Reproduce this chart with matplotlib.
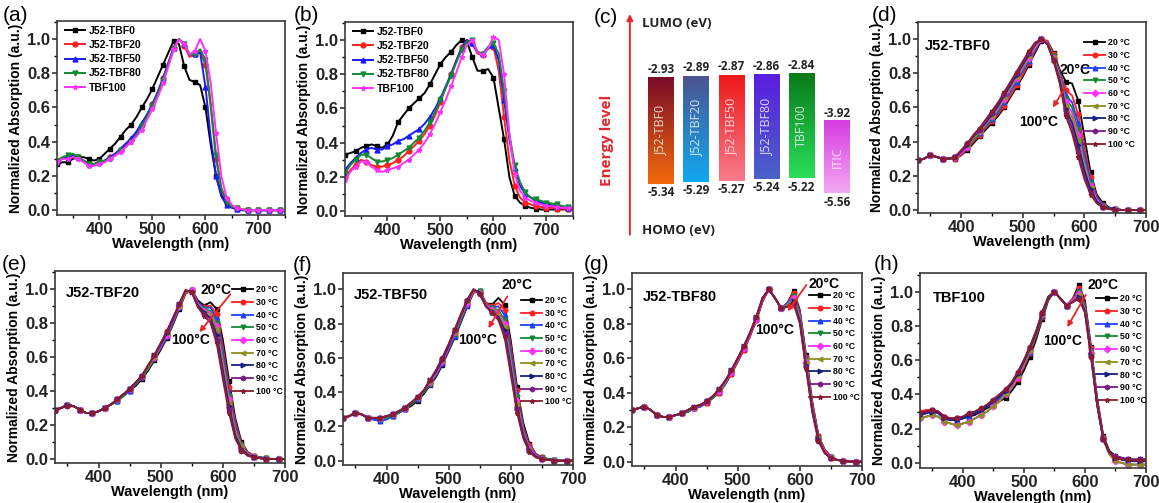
import numpy as np
import matplotlib
matplotlib.use('Agg')
import matplotlib.pyplot as plt
from matplotlib.ticker import MultipleLocator, FormatStrFormatter

plt.rcParams['font.family'] = ['Liberation Sans', 'DejaVu Sans']
plt.rcParams['font.weight'] = 'bold'
plt.rcParams['axes.labelweight'] = 'bold'
plt.rcParams['axes.linewidth'] = 1.2

FW, FH = 1159, 503

# ---------------- data ----------------
wl_ab = np.arange(320, 751, 10)      # panels a, b
wl_heat = np.arange(330, 701, 10)    # panels d-h

blend_names = ['J52-TBF0', 'J52-TBF20', 'J52-TBF50', 'J52-TBF80', 'TBF100']

# (a) solution
sol_tbf0 = [0.27, 0.28, 0.28, 0.30, 0.31, 0.31, 0.30, 0.29, 0.30, 0.33, 0.36, 0.39, 0.43, 0.47, 0.50, 0.545,
            0.60, 0.65, 0.71, 0.78, 0.85, 0.92, 0.99, 0.97, 0.84, 0.76, 0.75, 0.73, 0.60, 0.38, 0.20, 0.09,
            0.04, 0.015, 0.005, 0, 0, 0, 0, 0, 0, 0, 0, 0]
sol_tbf20 = [0.29, 0.30, 0.31, 0.32, 0.31, 0.29, 0.27, 0.27, 0.28, 0.29, 0.31, 0.33, 0.35, 0.38, 0.41, 0.45,
             0.50, 0.56, 0.62, 0.69, 0.77, 0.86, 0.95, 1.00, 0.96, 0.895, 0.91, 0.93, 0.85, 0.60, 0.30, 0.12,
             0.05, 0.02, 0.01, 0.005, 0, 0, 0, 0, 0, 0, 0, 0]
sol_tbf50 = [0.28, 0.30, 0.31, 0.32, 0.31, 0.29, 0.27, 0.27, 0.28, 0.29, 0.31, 0.33, 0.36, 0.39, 0.42, 0.46,
             0.51, 0.56, 0.62, 0.69, 0.77, 0.86, 0.95, 1.00, 0.97, 0.91, 0.91, 0.92, 0.72, 0.42, 0.20, 0.08,
             0.03, 0.015, 0.005, 0, 0, 0, 0, 0, 0, 0, 0, 0]
sol_tbf80 = [0.29, 0.31, 0.32, 0.33, 0.31, 0.29, 0.27, 0.27, 0.28, 0.29, 0.30, 0.32, 0.35, 0.37, 0.40, 0.44,
             0.49, 0.55, 0.61, 0.68, 0.76, 0.85, 0.94, 1.00, 0.97, 0.91, 0.91, 0.94, 0.88, 0.62, 0.32, 0.13,
             0.05, 0.02, 0.01, 0.005, 0, 0, 0, 0, 0, 0, 0, 0]
sol_tbf100 = [0.28, 0.30, 0.30, 0.31, 0.30, 0.28, 0.26, 0.26, 0.27, 0.28, 0.30, 0.32, 0.34, 0.37, 0.40, 0.43,
              0.47, 0.53, 0.59, 0.66, 0.74, 0.84, 0.94, 1.00, 0.97, 0.91, 0.93, 1.00, 0.93, 0.74, 0.45, 0.20,
              0.07, 0.03, 0.01, 0.005, 0, 0, 0, 0, 0, 0, 0, 0]

# (b) film
film_tbf0 = [0.33, 0.34, 0.35, 0.37, 0.38, 0.39, 0.38, 0.37, 0.39, 0.44, 0.52, 0.56, 0.60, 0.63, 0.66, 0.69,
             0.74, 0.80, 0.86, 0.90, 0.93, 0.97, 1.00, 0.99, 0.90, 0.82, 0.82, 0.83, 0.78, 0.60, 0.42, 0.20,
             0.09, 0.05, 0.03, 0.02, 0.015, 0.01, 0.01, 0.01, 0.01, 0.01, 0.01, 0.01]
film_tbf20 = [0.20, 0.24, 0.27, 0.30, 0.29, 0.27, 0.26, 0.26, 0.27, 0.28, 0.30, 0.32, 0.35, 0.38, 0.41, 0.45,
              0.50, 0.56, 0.64, 0.72, 0.80, 0.88, 0.96, 1.00, 0.98, 0.92, 0.91, 0.95, 0.96, 0.82, 0.55, 0.30,
              0.15, 0.08, 0.05, 0.04, 0.03, 0.025, 0.02, 0.02, 0.015, 0.015, 0.01, 0.01]
film_tbf50 = [0.24, 0.28, 0.31, 0.34, 0.36, 0.37, 0.36, 0.36, 0.38, 0.39, 0.41, 0.42, 0.44, 0.46, 0.48, 0.51,
              0.55, 0.60, 0.66, 0.73, 0.80, 0.88, 0.95, 1.00, 0.98, 0.93, 0.92, 0.95, 0.97, 0.88, 0.65, 0.42,
              0.25, 0.15, 0.10, 0.08, 0.06, 0.05, 0.04, 0.035, 0.03, 0.025, 0.02, 0.02]
film_tbf80 = [0.22, 0.27, 0.30, 0.33, 0.33, 0.31, 0.29, 0.29, 0.30, 0.31, 0.33, 0.35, 0.37, 0.40, 0.43, 0.47,
              0.52, 0.58, 0.65, 0.72, 0.79, 0.87, 0.94, 0.99, 1.00, 0.93, 0.92, 0.96, 0.98, 0.92, 0.70, 0.45,
              0.27, 0.17, 0.11, 0.08, 0.07, 0.06, 0.05, 0.045, 0.04, 0.03, 0.025, 0.02]
film_tbf100 = [0.18, 0.23, 0.26, 0.29, 0.29, 0.26, 0.24, 0.23, 0.24, 0.25, 0.26, 0.28, 0.30, 0.33, 0.36, 0.40,
               0.45, 0.51, 0.58, 0.65, 0.73, 0.81, 0.90, 0.97, 1.00, 0.93, 0.91, 0.95, 1.02, 1.00, 0.80, 0.45,
               0.22, 0.12, 0.08, 0.06, 0.05, 0.04, 0.03, 0.03, 0.025, 0.02, 0.02, 0.02]

# (c) energy levels
level_names = ['J52-TBF0', 'J52-TBF20', 'J52-TBF50', 'J52-TBF80', 'TBF100', 'ITIC']
lumo = [-2.93, -2.89, -2.87, -2.86, -2.84, -3.92]
homo = [-5.34, -5.29, -5.27, -5.24, -5.22, -5.56]

# (d)-(h) temperature dependent spectra, rows: 20..100 C
temps = ['20 °C', '30 °C', '40 °C', '50 °C', '60 °C', '70 °C', '80 °C', '90 °C', '100 °C']

tbf0_heat = [
    [0.29, 0.30, 0.32, 0.31, 0.30, 0.30, 0.30, 0.32, 0.35, 0.39, 0.43, 0.47, 0.51, 0.55, 0.60, 0.66, 0.72, 0.78, 0.85, 0.92, 0.99, 0.99, 0.92, 0.82, 0.75, 0.74, 0.64, 0.43, 0.22, 0.09, 0.04, 0.015, 0.005, 0, 0, 0, 0, 0],
    [0.29, 0.30, 0.32, 0.31, 0.30, 0.30, 0.30, 0.32, 0.36, 0.40, 0.44, 0.48, 0.52, 0.56, 0.61, 0.67, 0.73, 0.79, 0.86, 0.93, 1.00, 0.99, 0.91, 0.81, 0.70, 0.67, 0.56, 0.37, 0.19, 0.08, 0.03, 0.01, 0.005, 0, 0, 0, 0, 0],
    [0.29, 0.30, 0.32, 0.31, 0.30, 0.30, 0.31, 0.33, 0.37, 0.41, 0.45, 0.49, 0.53, 0.57, 0.63, 0.69, 0.75, 0.81, 0.87, 0.94, 1.00, 0.98, 0.90, 0.80, 0.67, 0.63, 0.51, 0.33, 0.17, 0.07, 0.03, 0.01, 0.005, 0, 0, 0, 0, 0],
    [0.29, 0.30, 0.32, 0.31, 0.30, 0.30, 0.31, 0.33, 0.37, 0.41, 0.45, 0.49, 0.54, 0.58, 0.64, 0.70, 0.76, 0.82, 0.88, 0.95, 1.00, 0.98, 0.90, 0.79, 0.65, 0.60, 0.47, 0.30, 0.15, 0.06, 0.025, 0.01, 0.005, 0, 0, 0, 0, 0],
    [0.29, 0.30, 0.32, 0.31, 0.30, 0.30, 0.31, 0.33, 0.37, 0.42, 0.46, 0.50, 0.55, 0.59, 0.65, 0.71, 0.77, 0.83, 0.89, 0.95, 1.00, 0.98, 0.89, 0.78, 0.63, 0.57, 0.44, 0.27, 0.14, 0.06, 0.02, 0.01, 0.005, 0, 0, 0, 0, 0],
    [0.29, 0.30, 0.32, 0.31, 0.30, 0.30, 0.31, 0.34, 0.38, 0.42, 0.46, 0.51, 0.55, 0.60, 0.66, 0.72, 0.78, 0.84, 0.90, 0.96, 1.00, 0.97, 0.89, 0.77, 0.61, 0.54, 0.41, 0.25, 0.13, 0.05, 0.02, 0.01, 0.005, 0, 0, 0, 0, 0],
    [0.29, 0.30, 0.32, 0.31, 0.30, 0.30, 0.31, 0.34, 0.38, 0.43, 0.47, 0.51, 0.56, 0.61, 0.67, 0.73, 0.79, 0.85, 0.91, 0.97, 1.00, 0.97, 0.88, 0.76, 0.59, 0.51, 0.38, 0.23, 0.12, 0.05, 0.02, 0.01, 0.005, 0, 0, 0, 0, 0],
    [0.29, 0.30, 0.32, 0.31, 0.30, 0.30, 0.31, 0.34, 0.39, 0.43, 0.47, 0.52, 0.57, 0.62, 0.68, 0.74, 0.80, 0.86, 0.92, 0.97, 1.00, 0.97, 0.88, 0.75, 0.57, 0.48, 0.34, 0.20, 0.10, 0.04, 0.015, 0.005, 0, 0, 0, 0, 0, 0],
    [0.29, 0.30, 0.32, 0.31, 0.30, 0.30, 0.31, 0.35, 0.39, 0.44, 0.48, 0.53, 0.58, 0.63, 0.69, 0.75, 0.81, 0.87, 0.93, 0.98, 1.00, 0.97, 0.87, 0.74, 0.55, 0.45, 0.31, 0.18, 0.09, 0.04, 0.015, 0.005, 0, 0, 0, 0, 0, 0],
]

tbf20_heat = [
    [0.29, 0.30, 0.32, 0.31, 0.29, 0.27, 0.27, 0.28, 0.30, 0.32, 0.34, 0.37, 0.40, 0.43, 0.47, 0.52, 0.58, 0.64, 0.71, 0.79, 0.88, 0.97, 0.99, 0.93, 0.90, 0.92, 0.88, 0.70, 0.46, 0.24, 0.10, 0.04, 0.02, 0.01, 0.005, 0, 0, 0],
    [0.29, 0.30, 0.32, 0.31, 0.29, 0.27, 0.27, 0.28, 0.30, 0.32, 0.34, 0.37, 0.40, 0.44, 0.48, 0.53, 0.59, 0.65, 0.72, 0.80, 0.89, 0.97, 0.99, 0.92, 0.89, 0.90, 0.85, 0.66, 0.42, 0.22, 0.09, 0.04, 0.02, 0.01, 0.005, 0, 0, 0],
    [0.29, 0.30, 0.32, 0.31, 0.29, 0.27, 0.27, 0.28, 0.30, 0.32, 0.34, 0.37, 0.40, 0.44, 0.48, 0.53, 0.59, 0.65, 0.72, 0.80, 0.89, 0.98, 0.99, 0.92, 0.885, 0.89, 0.82, 0.63, 0.39, 0.20, 0.08, 0.035, 0.015, 0.01, 0.005, 0, 0, 0],
    [0.29, 0.30, 0.32, 0.31, 0.29, 0.27, 0.27, 0.28, 0.30, 0.32, 0.34, 0.37, 0.41, 0.44, 0.48, 0.53, 0.59, 0.66, 0.73, 0.81, 0.90, 0.98, 0.99, 0.91, 0.88, 0.87, 0.80, 0.60, 0.37, 0.18, 0.08, 0.03, 0.015, 0.01, 0.005, 0, 0, 0],
    [0.29, 0.30, 0.32, 0.31, 0.29, 0.27, 0.27, 0.28, 0.30, 0.32, 0.35, 0.38, 0.41, 0.45, 0.49, 0.54, 0.60, 0.66, 0.73, 0.81, 0.90, 0.98, 0.99, 0.91, 0.87, 0.86, 0.78, 0.57, 0.35, 0.17, 0.07, 0.03, 0.015, 0.005, 0, 0, 0, 0],
    [0.29, 0.30, 0.32, 0.31, 0.29, 0.27, 0.27, 0.28, 0.30, 0.32, 0.35, 0.38, 0.41, 0.45, 0.49, 0.54, 0.60, 0.67, 0.74, 0.82, 0.90, 0.98, 0.98, 0.90, 0.865, 0.85, 0.76, 0.55, 0.33, 0.16, 0.07, 0.03, 0.01, 0.005, 0, 0, 0, 0],
    [0.29, 0.30, 0.32, 0.31, 0.29, 0.27, 0.27, 0.28, 0.30, 0.32, 0.35, 0.38, 0.41, 0.45, 0.49, 0.55, 0.61, 0.67, 0.74, 0.82, 0.91, 0.99, 0.98, 0.90, 0.86, 0.83, 0.73, 0.52, 0.31, 0.14, 0.06, 0.025, 0.01, 0.005, 0, 0, 0, 0],
    [0.28, 0.30, 0.31, 0.31, 0.29, 0.27, 0.27, 0.28, 0.30, 0.32, 0.35, 0.38, 0.41, 0.45, 0.49, 0.55, 0.61, 0.68, 0.75, 0.83, 0.91, 0.99, 0.98, 0.89, 0.85, 0.82, 0.70, 0.50, 0.29, 0.13, 0.05, 0.02, 0.01, 0.005, 0, 0, 0, 0],
    [0.28, 0.30, 0.31, 0.31, 0.29, 0.27, 0.27, 0.28, 0.30, 0.32, 0.35, 0.38, 0.41, 0.45, 0.49, 0.55, 0.61, 0.68, 0.75, 0.83, 0.91, 0.99, 0.98, 0.89, 0.84, 0.80, 0.68, 0.47, 0.27, 0.12, 0.05, 0.02, 0.01, 0.005, 0, 0, 0, 0],
]

tbf50_heat = [
    [0.25, 0.26, 0.28, 0.27, 0.25, 0.24, 0.24, 0.25, 0.26, 0.28, 0.30, 0.32, 0.35, 0.39, 0.44, 0.49, 0.56, 0.64, 0.72, 0.81, 0.90, 0.98, 0.99, 0.92, 0.91, 0.95, 0.91, 0.70, 0.43, 0.22, 0.10, 0.04, 0.02, 0.01, 0.005, 0, 0, 0],
    [0.25, 0.26, 0.28, 0.27, 0.25, 0.24, 0.24, 0.25, 0.26, 0.28, 0.30, 0.33, 0.36, 0.40, 0.45, 0.50, 0.57, 0.65, 0.73, 0.82, 0.91, 0.98, 0.99, 0.92, 0.90, 0.92, 0.88, 0.67, 0.41, 0.20, 0.09, 0.04, 0.02, 0.01, 0.005, 0, 0, 0],
    [0.25, 0.26, 0.28, 0.27, 0.25, 0.24, 0.23, 0.24, 0.26, 0.28, 0.30, 0.33, 0.36, 0.40, 0.45, 0.50, 0.57, 0.65, 0.73, 0.82, 0.91, 0.99, 0.99, 0.91, 0.895, 0.90, 0.85, 0.64, 0.39, 0.19, 0.08, 0.035, 0.015, 0.01, 0.005, 0, 0, 0],
    [0.25, 0.26, 0.28, 0.27, 0.25, 0.25, 0.24, 0.25, 0.26, 0.28, 0.31, 0.33, 0.36, 0.40, 0.45, 0.51, 0.58, 0.66, 0.74, 0.83, 0.92, 0.99, 0.99, 0.91, 0.89, 0.88, 0.82, 0.61, 0.37, 0.18, 0.07, 0.03, 0.015, 0.01, 0.005, 0, 0, 0],
    [0.25, 0.26, 0.28, 0.27, 0.25, 0.25, 0.25, 0.26, 0.27, 0.29, 0.31, 0.34, 0.37, 0.41, 0.46, 0.51, 0.58, 0.66, 0.75, 0.84, 0.92, 0.99, 0.98, 0.91, 0.88, 0.87, 0.80, 0.58, 0.35, 0.17, 0.07, 0.03, 0.01, 0.005, 0, 0, 0, 0],
    [0.25, 0.26, 0.28, 0.27, 0.25, 0.25, 0.25, 0.26, 0.27, 0.29, 0.31, 0.34, 0.37, 0.41, 0.46, 0.52, 0.59, 0.67, 0.75, 0.84, 0.93, 0.99, 0.98, 0.90, 0.875, 0.86, 0.78, 0.56, 0.33, 0.16, 0.06, 0.025, 0.01, 0.005, 0, 0, 0, 0],
    [0.25, 0.26, 0.28, 0.27, 0.25, 0.25, 0.25, 0.26, 0.27, 0.29, 0.31, 0.34, 0.37, 0.41, 0.47, 0.52, 0.59, 0.67, 0.76, 0.85, 0.93, 1.00, 0.98, 0.90, 0.87, 0.84, 0.76, 0.54, 0.31, 0.15, 0.06, 0.025, 0.01, 0.005, 0, 0, 0, 0],
    [0.25, 0.26, 0.28, 0.27, 0.25, 0.25, 0.25, 0.26, 0.27, 0.29, 0.31, 0.34, 0.37, 0.41, 0.47, 0.53, 0.60, 0.68, 0.76, 0.85, 0.94, 1.00, 0.97, 0.90, 0.865, 0.83, 0.74, 0.52, 0.30, 0.14, 0.055, 0.02, 0.01, 0.005, 0, 0, 0, 0],
    [0.25, 0.26, 0.28, 0.27, 0.25, 0.25, 0.25, 0.26, 0.27, 0.29, 0.31, 0.34, 0.37, 0.41, 0.47, 0.53, 0.60, 0.68, 0.77, 0.86, 0.94, 1.00, 0.97, 0.90, 0.86, 0.82, 0.72, 0.50, 0.28, 0.13, 0.05, 0.02, 0.01, 0.005, 0, 0, 0, 0],
]

tbf80_heat = [
    [0.30, 0.31, 0.32, 0.30, 0.27, 0.26, 0.26, 0.27, 0.28, 0.29, 0.31, 0.32, 0.34, 0.37, 0.40, 0.45, 0.51, 0.58, 0.65, 0.73, 0.82, 0.93, 1.00, 0.95, 0.89, 0.92, 0.99, 0.88, 0.62, 0.35, 0.15, 0.07, 0.03, 0.01, 0.005, 0.005, 0, 0],
    [0.30, 0.31, 0.32, 0.30, 0.27, 0.26, 0.26, 0.27, 0.28, 0.29, 0.31, 0.32, 0.34, 0.37, 0.40, 0.45, 0.51, 0.58, 0.65, 0.73, 0.82, 0.93, 1.00, 0.95, 0.89, 0.92, 0.98, 0.87, 0.61, 0.34, 0.15, 0.07, 0.03, 0.01, 0.005, 0.005, 0, 0],
    [0.30, 0.31, 0.32, 0.30, 0.27, 0.26, 0.26, 0.27, 0.28, 0.29, 0.31, 0.32, 0.35, 0.37, 0.41, 0.45, 0.52, 0.59, 0.66, 0.74, 0.83, 0.94, 1.00, 0.95, 0.89, 0.92, 0.96, 0.86, 0.60, 0.33, 0.14, 0.06, 0.025, 0.01, 0.005, 0, 0, 0],
    [0.30, 0.31, 0.32, 0.30, 0.27, 0.26, 0.26, 0.27, 0.28, 0.29, 0.31, 0.33, 0.35, 0.37, 0.41, 0.46, 0.52, 0.59, 0.66, 0.74, 0.83, 0.94, 1.00, 0.95, 0.89, 0.91, 0.96, 0.85, 0.59, 0.32, 0.14, 0.06, 0.025, 0.01, 0.005, 0, 0, 0],
    [0.30, 0.31, 0.32, 0.30, 0.27, 0.26, 0.26, 0.27, 0.28, 0.30, 0.31, 0.33, 0.35, 0.38, 0.41, 0.46, 0.52, 0.59, 0.66, 0.74, 0.83, 0.94, 1.00, 0.95, 0.89, 0.91, 0.95, 0.84, 0.58, 0.32, 0.13, 0.06, 0.02, 0.01, 0.005, 0, 0, 0],
    [0.30, 0.31, 0.32, 0.30, 0.27, 0.26, 0.26, 0.27, 0.28, 0.30, 0.31, 0.33, 0.35, 0.38, 0.42, 0.46, 0.53, 0.60, 0.67, 0.75, 0.84, 0.95, 1.00, 0.95, 0.89, 0.91, 0.94, 0.83, 0.57, 0.31, 0.13, 0.05, 0.02, 0.01, 0.005, 0, 0, 0],
    [0.30, 0.31, 0.32, 0.30, 0.27, 0.26, 0.26, 0.27, 0.28, 0.30, 0.32, 0.33, 0.35, 0.38, 0.42, 0.47, 0.53, 0.60, 0.67, 0.75, 0.84, 0.95, 1.00, 0.95, 0.89, 0.90, 0.93, 0.82, 0.56, 0.30, 0.13, 0.05, 0.02, 0.01, 0.005, 0, 0, 0],
    [0.30, 0.31, 0.32, 0.30, 0.27, 0.26, 0.26, 0.27, 0.28, 0.30, 0.32, 0.33, 0.35, 0.38, 0.42, 0.47, 0.53, 0.60, 0.67, 0.75, 0.84, 0.95, 1.00, 0.95, 0.89, 0.90, 0.92, 0.81, 0.55, 0.29, 0.12, 0.05, 0.02, 0.01, 0.005, 0, 0, 0],
    [0.30, 0.31, 0.32, 0.30, 0.27, 0.26, 0.26, 0.27, 0.28, 0.30, 0.32, 0.33, 0.35, 0.38, 0.42, 0.47, 0.53, 0.60, 0.67, 0.75, 0.84, 0.95, 1.00, 0.95, 0.89, 0.90, 0.92, 0.80, 0.54, 0.29, 0.12, 0.05, 0.02, 0.01, 0.005, 0, 0, 0],
]

tbf100_heat = [
    [0.29, 0.30, 0.31, 0.30, 0.27, 0.26, 0.26, 0.26, 0.27, 0.28, 0.30, 0.32, 0.34, 0.36, 0.38, 0.42, 0.47, 0.54, 0.62, 0.72, 0.84, 0.95, 1.00, 0.96, 0.92, 0.96, 1.04, 0.95, 0.68, 0.38, 0.16, 0.07, 0.04, 0.03, 0.02, 0.02, 0.02, 0.02],
    [0.30, 0.31, 0.31, 0.30, 0.27, 0.26, 0.26, 0.27, 0.28, 0.29, 0.31, 0.33, 0.35, 0.37, 0.40, 0.44, 0.49, 0.56, 0.64, 0.74, 0.85, 0.96, 1.00, 0.96, 0.92, 0.96, 1.02, 0.93, 0.67, 0.37, 0.15, 0.06, 0.03, 0.02, 0.015, 0.01, 0.01, 0.01],
    [0.28, 0.29, 0.30, 0.29, 0.26, 0.25, 0.25, 0.26, 0.27, 0.29, 0.31, 0.33, 0.35, 0.38, 0.41, 0.45, 0.50, 0.57, 0.65, 0.75, 0.86, 0.96, 1.00, 0.96, 0.92, 0.95, 1.01, 0.92, 0.66, 0.36, 0.15, 0.06, 0.03, 0.02, 0.01, 0.01, 0.01, 0.01],
    [0.26, 0.27, 0.28, 0.27, 0.24, 0.23, 0.22, 0.23, 0.24, 0.26, 0.28, 0.30, 0.33, 0.36, 0.40, 0.44, 0.50, 0.57, 0.65, 0.75, 0.86, 0.96, 1.00, 0.96, 0.92, 0.95, 1.00, 0.91, 0.65, 0.35, 0.14, 0.05, 0.01, 0.0, -0.01, -0.01, -0.01, -0.01],
    [0.26, 0.27, 0.28, 0.27, 0.24, 0.23, 0.22, 0.23, 0.24, 0.26, 0.28, 0.30, 0.33, 0.36, 0.40, 0.44, 0.50, 0.57, 0.66, 0.76, 0.87, 0.97, 1.00, 0.96, 0.92, 0.95, 0.99, 0.90, 0.64, 0.35, 0.14, 0.05, 0.01, 0.0, -0.01, -0.01, -0.01, -0.01],
    [0.26, 0.27, 0.28, 0.27, 0.24, 0.23, 0.22, 0.23, 0.24, 0.26, 0.28, 0.30, 0.33, 0.36, 0.40, 0.45, 0.51, 0.58, 0.66, 0.76, 0.87, 0.97, 1.00, 0.96, 0.92, 0.94, 0.98, 0.90, 0.63, 0.34, 0.14, 0.05, 0.01, 0.0, -0.01, -0.01, -0.01, -0.01],
    [0.28, 0.29, 0.30, 0.29, 0.26, 0.25, 0.25, 0.26, 0.28, 0.29, 0.31, 0.33, 0.36, 0.39, 0.42, 0.46, 0.52, 0.59, 0.67, 0.76, 0.87, 0.97, 1.00, 0.96, 0.92, 0.94, 0.97, 0.89, 0.63, 0.34, 0.14, 0.06, 0.03, 0.02, 0.015, 0.01, 0.01, 0.01],
    [0.29, 0.30, 0.31, 0.30, 0.27, 0.26, 0.26, 0.27, 0.29, 0.30, 0.32, 0.34, 0.37, 0.40, 0.43, 0.47, 0.53, 0.60, 0.68, 0.77, 0.88, 0.97, 1.00, 0.96, 0.92, 0.94, 0.96, 0.88, 0.62, 0.34, 0.14, 0.06, 0.04, 0.03, 0.02, 0.02, 0.02, 0.02],
    [0.29, 0.30, 0.31, 0.30, 0.27, 0.26, 0.26, 0.27, 0.29, 0.30, 0.32, 0.34, 0.37, 0.40, 0.43, 0.47, 0.53, 0.60, 0.68, 0.77, 0.88, 0.97, 1.00, 0.96, 0.92, 0.94, 0.96, 0.88, 0.62, 0.34, 0.14, 0.06, 0.03, 0.02, 0.02, 0.015, 0.015, 0.015],
]

# ---------------- styles ----------------
blend_colors = ['#000000', '#ff2020', '#1a1aff', '#118a33', '#ff30ff']
blend_markers = ['s', 'o', '^', 'v', '*']
temp_colors = ['#000000', '#ff2020', '#2040ff', '#108a30', '#ff30ff', '#8f8f1f', '#13207f', '#7a1a8a', '#8a1a30']
temp_markers = ['s', 'o', '^', 'v', 'D', '<', '>', 'h', '*']
bar_top = ['#7a0c28', '#4a5590', '#ee1a1a', '#5a1ee0', '#0a7a1a', '#d63ce0']
bar_bottom = ['#f26a0a', '#10a8f0', '#f87a8a', '#4a62c8', '#2ade5a', '#f4a8f4']
RED = '#e8252a'

fig = plt.figure(figsize=(FW / 100, FH / 100), dpi=100)


def px_box(l, r, t, b):
    return [l / FW, 1 - b / FH, (r - l) / FW, (b - t) / FH]


def spec_axes(rect, xlim, ylim):
    ax = fig.add_axes(px_box(*rect))
    ax.set_xlim(*xlim)
    ax.set_ylim(*ylim)
    ax.xaxis.set_major_locator(MultipleLocator(100))
    ax.xaxis.set_minor_locator(MultipleLocator(50))
    ax.yaxis.set_major_locator(MultipleLocator(0.2))
    ax.yaxis.set_minor_locator(MultipleLocator(0.1))
    ax.yaxis.set_major_formatter(FormatStrFormatter('%.1f'))
    ax.tick_params(which='major', direction='out', length=3.5, width=1.1, labelsize=12, pad=1.5, colors='#222222')
    ax.tick_params(which='minor', direction='out', length=2, width=1)
    for lbl in ax.get_xticklabels() + ax.get_yticklabels():
        lbl.set_fontweight('bold')
    for s in ax.spines.values():
        s.set_color('#3a3a3a')
    ax.set_xlabel('Wavelength (nm)', fontsize=10.5, fontweight='bold', labelpad=0)
    ax.set_ylabel('Normalized Absorption (a.u.)', fontsize=10, fontweight='bold', labelpad=3)
    return ax


def panel_label(x, y, s):
    fig.text(x / FW, 1 - y / FH, s, fontsize=15, fontweight='normal', va='top', ha='left')


# ---------------- (a), (b) ----------------
for rect, series in [((57, 285, 21, 215), [sol_tbf0, sol_tbf20, sol_tbf50, sol_tbf80, sol_tbf100]),
                     ((345, 573, 22, 216), [film_tbf0, film_tbf20, film_tbf50, film_tbf80, film_tbf100])]:
    ax = spec_axes(rect, (320, 750), (-0.028, 1.105))
    for vals, c, m, name in zip(series, blend_colors, blend_markers, blend_names):
        ax.plot(wl_ab, vals, color=c, lw=1.4, marker=m, ms=3.5, markevery=2, label=name)
    ax.legend(loc='upper left', bbox_to_anchor=(0.035, 0.975), frameon=False, fontsize=7.5,
              handlelength=1.9, handletextpad=0.4, labelspacing=0.4, borderpad=0, borderaxespad=0)

panel_label(3, 6, '(a)')
panel_label(294, 6, '(b)')

# ---------------- (c) ----------------
axc = fig.add_axes(px_box(580, 870, 0, 250))
axc.axis('off')
bw = 0.72
for i, (name, lu, ho) in enumerate(zip(level_names, lumo, homo)):
    top = np.array(matplotlib.colors.to_rgb(bar_top[i]))
    bot = np.array(matplotlib.colors.to_rgb(bar_bottom[i]))
    t = np.linspace(0, 1, 64)[:, None, None]
    grad = top[None, None, :] * (1 - t) + bot[None, None, :] * t
    axc.imshow(grad, extent=(i - bw / 2, i + bw / 2, ho, lu), origin='upper', aspect='auto', zorder=2)
    axc.text(i, (lu + ho) / 2, name, rotation=90, ha='center', va='center', color='white', alpha=0.8,
             fontsize=9, fontweight='normal', family=['Open Sans', 'DejaVu Sans'], zorder=3)
    axc.annotate(f'{lu:.2f}', (i, lu), xytext=(0, 1), textcoords='offset points', ha='center', va='bottom',
                 fontsize=8.5, color='#222222', family=['Open Sans', 'DejaVu Sans'])
    axc.annotate(f'{ho:.2f}', (i, ho), xytext=(0, -1.5), textcoords='offset points', ha='center', va='top',
                 fontsize=8.5, color='#222222', family=['Open Sans', 'DejaVu Sans'])
axc.set_xlim(-2.30, 5.94)
axc.set_ylim(-6.843, -1.171)
axc.annotate('', xy=(0.172, 0.955), xytext=(0.172, 0.05), xycoords='axes fraction',
             arrowprops=dict(arrowstyle='-|>', color=RED, lw=1.4, mutation_scale=9))
axc.text(0.214, 0.905, 'LUMO (eV)', transform=axc.transAxes, fontsize=9.5, va='center', color='#222222',
         family=['Open Sans', 'DejaVu Sans'])
axc.text(0.214, 0.08, 'HOMO (eV)', transform=axc.transAxes, fontsize=9.5, va='center', color='#222222',
         family=['Open Sans', 'DejaVu Sans'])
axc.text(0.093, 0.44, 'Energy level', transform=axc.transAxes, fontsize=11, rotation=90, ha='center',
         va='center', color=RED, family=['Open Sans', 'DejaVu Sans'])
panel_label(594, 8, '(c)')

# ---------------- (d)-(h) ----------------
heat_panels = [
    ((918, 1146, 22, 213), tbf0_heat, 'J52-TBF0', (0.03, 0.875), (-0.018, 1.10),
     (0.69, 0.75), (0.53, 0.475), (0.655, 0.675), (0.585, 0.54), (0.73, 0.915), (872, 6, '(d)')),
    ((55, 285, 271, 463), tbf20_heat, 'J52-TBF20', (0.045, 0.885), (-0.023, 1.103),
     (0.70, 0.90), (0.59, 0.64), (0.77, 0.89), (0.62, 0.67), (0.77, 0.925), (2, 255, '(e)')),
    ((343, 573, 273, 465), tbf50_heat, 'J52-TBF50', (0.045, 0.885), (-0.025, 1.095),
     (0.757, 0.94), (0.587, 0.65), (0.72, 0.89), (0.626, 0.70), (0.775, 0.88), (293, 256, '(f)')),
    ((632, 862, 273, 466), tbf80_heat, 'J52-TBF80', (0.045, 0.875), (-0.025, 1.095),
     (0.835, 0.945), (0.62, 0.705), (0.765, 0.95), (0.67, 0.79), (0.77, 0.905), (584, 255, '(g)')),
    ((920, 1146, 273, 468), tbf100_heat, 'TBF100', (0.055, 0.87), (-0.03, 1.11),
     (0.81, 0.94), (0.63, 0.65), (0.74, 0.90), (0.645, 0.71), (0.78, 0.89), (874, 255, '(h)')),
]

for rect, rows, name, npos, ylim, hot_lo, hot_hi, a_from, a_to, leg_pos, plab in heat_panels:
    ax = spec_axes(rect, (330, 700), ylim)
    for vals, c, m, tl in zip(rows, temp_colors, temp_markers, temps):
        ax.plot(wl_heat, vals, color=c, lw=1.3, marker=m, ms=3.3, markevery=2, label=tl)
    ax.text(npos[0], npos[1], name, transform=ax.transAxes, fontsize=10.5, va='center', ha='left')
    ax.text(hot_lo[0], hot_lo[1], '20°C', transform=ax.transAxes, fontsize=10, ha='center', va='center')
    ax.text(hot_hi[0], hot_hi[1], '100°C', transform=ax.transAxes, fontsize=10, ha='center', va='center')
    ax.annotate('', xy=a_to, xytext=a_from, xycoords='axes fraction',
                arrowprops=dict(arrowstyle='-|>', color=RED, lw=1.3, mutation_scale=8))
    ax.legend(loc='upper left', bbox_to_anchor=leg_pos, frameon=False, fontsize=6.3,
              handlelength=2.4, handletextpad=0.3, labelspacing=0.42, borderpad=0, borderaxespad=0)
    panel_label(*plab)

fig.savefig('out.png', dpi=100)
